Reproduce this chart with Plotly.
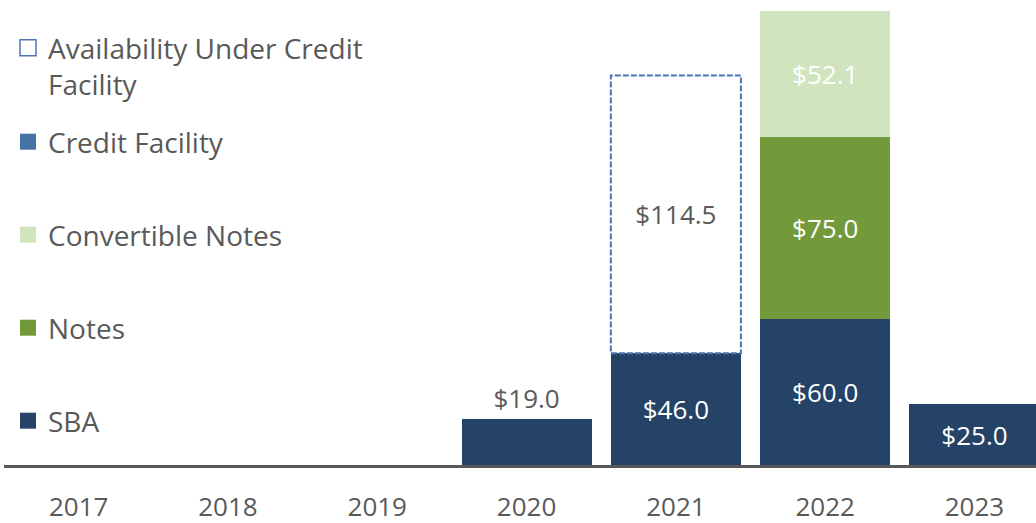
import plotly.graph_objects as go

# ---- data ----
years = ["2017", "2018", "2019", "2020", "2021", "2022", "2023"]
sba = [None, None, None, 19.0, 46.0, 60.0, 25.0]
notes = [None, None, None, None, None, 75.0, None]
convertible_notes = [None, None, None, None, None, 52.1, None]
credit_facility = [None, None, None, None, None, None, None]
availability = [None, None, None, None, 114.5, None, None]

series_names = ["SBA", "Notes", "Convertible Notes", "Credit Facility",
                "Availability Under Credit<br>Facility"]

# ---- styles ----
C_SBA = "#254366"
C_NOTES = "#729a3a"
C_CONV = "#d0e5bf"
C_CF = "#4672a8"
C_AVAIL = "#4a76b0"
GRAY = "#595959"
FONT = "Open Sans"
FS = 26
FS_LEG = 28
BAR_W = 0.871

W, H = 1036, 523
ML, MR, MT, MB = 4, 0, 0, 58
PW, PH = W - ML - MR, H - MT - MB

fig = go.Figure()

def fmt(v):
    return "" if v is None else f"${v:.1f}"

sba_pos = ["outside" if (v is not None and v < 20) else "inside" for v in sba]

stack = [
    (series_names[0], sba, C_SBA, "white", sba_pos),
    (series_names[1], notes, C_NOTES, "white", "inside"),
    (series_names[2], convertible_notes, C_CONV, "white", "inside"),
    (series_names[3], credit_facility, C_CF, "white", "inside"),
    (series_names[4], availability, "rgba(0,0,0,0)", GRAY, "inside"),
]

for name, vals, col, tcol, pos in stack:
    fig.add_trace(go.Bar(
        x=years, y=vals, name=name, showlegend=False,
        marker=dict(color=col, line=dict(width=0)),
        width=BAR_W,
        text=[fmt(v) for v in vals],
        textposition=pos,
        insidetextanchor="middle",
        textangle=0,
        constraintext="none",
        insidetextfont=dict(color=tcol, size=FS, family=FONT),
        outsidetextfont=dict(color=GRAY, size=FS, family=FONT),
        cliponaxis=False,
        hoverinfo="skip",
    ))

# dashed outline for availability segments (stacked on SBA)
for i, v in enumerate(availability):
    if v is None:
        continue
    base = sba[i] or 0
    fig.add_shape(type="rect", xref="x", yref="y",
                  x0=i - BAR_W / 2, x1=i + BAR_W / 2, y0=base, y1=base + v,
                  line=dict(color=C_AVAIL, width=2, dash="6px,2px"),
                  fillcolor="rgba(0,0,0,0)", layer="above")

# legend entries (one legend per entry, to match the vertical spacing)
legend_items = [
    (series_names[4], "square-open", C_AVAIL, "legend", 66),
    (series_names[3], "square", C_CF, "legend2", 142),
    (series_names[2], "square", C_CONV, "legend3", 235),
    (series_names[1], "square", C_NOTES, "legend4", 328),
    (series_names[0], "square", C_SBA, "legend5", 421),
]
legend_layouts = {}
for name, sym, col, lg, ypx in legend_items:
    fig.add_trace(go.Scatter(
        x=[None], y=[None], mode="markers", name=name, legend=lg,
        marker=dict(symbol=sym, color=col, size=18,
                    line=dict(width=1.5 if sym.endswith("open") else 0, color=col)),
        hoverinfo="skip",
    ))
    legend_layouts[lg] = dict(
        xref="paper", yref="paper", x=(8 - ML) / PW, y=(MT + PH - ypx) / PH,
        xanchor="left", yanchor="middle", valign="top",
        bgcolor="rgba(0,0,0,0)", borderwidth=0,
        font=dict(family=FONT, size=FS_LEG, color=GRAY),
    )

fig.update_layout(
    width=W, height=H,
    margin=dict(l=ML, r=MR, t=MT, b=MB, autoexpand=False),
    barmode="stack",
    plot_bgcolor="white", paper_bgcolor="white",
    font=dict(family=FONT, size=FS, color=GRAY),
    showlegend=True,
    **legend_layouts,
)
fig.update_xaxes(
    type="category", range=[-0.5, 6.412],
    showgrid=False, zeroline=False,
    showline=True, linecolor=GRAY, linewidth=3,
    ticks="", ticklabelstandoff=17,
    tickfont=dict(family=FONT, size=FS, color=GRAY),
)
fig.update_yaxes(range=[0, 191.6], visible=False, showgrid=False, zeroline=False)

fig.write_html("out.html",
               config={"displayModeBar": False},
               post_script="document.body.style.margin='0';document.body.style.overflow='hidden';")
